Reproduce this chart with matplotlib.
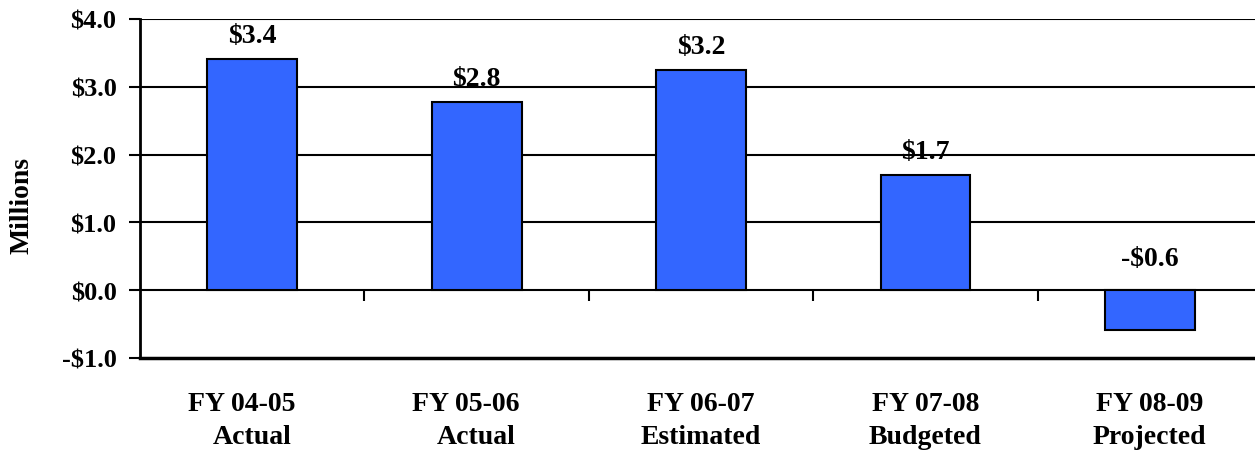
import matplotlib.pyplot as plt
import numpy as np

# Values (millions of dollars)
years = ['FY 04-05', 'FY 05-06', 'FY 06-07', 'FY 07-08', 'FY 08-09']
kinds = ['Actual', 'Actual', 'Estimated', 'Budgeted', 'Projected']
values = [3.41, 2.78, 3.25, 1.70, -0.59]
value_labels = ['$3.4', '$2.8', '$3.2', '$1.7', '-$0.6']
y_ticks = [-1, 0, 1, 2, 3, 4]
y_tick_labels = ['-$1.0', '$0.0', '$1.0', '$2.0', '$3.0', '$4.0']

plt.rcParams['font.family'] = ['Liberation Serif', 'DejaVu Serif']
plt.rcParams['font.weight'] = 'bold'

fig = plt.figure(figsize=(12.55, 4.52), dpi=100)
ax = fig.add_axes([0.1116, 0.2058, 0.894, 0.75])

x = np.arange(len(values))
ax.bar(x, values, width=0.40, color='#3366FF', edgecolor='black', linewidth=1.5, zorder=3)

# Value labels above each bar (above the zero line for the negative one)
for xi, v, lab in zip(x, values, value_labels):
    ax.annotate(lab, (xi, max(v, 0)), xytext=(0, 8 if v >= 0 else 14),
                textcoords='offset points', ha='center', va='bottom',
                fontsize=20, fontweight='bold')

ax.set_xlim(-0.5, len(values) - 0.5)
ax.set_ylim(-1, 4)

# Gridlines
for yv in y_ticks[1:]:
    ax.axhline(yv, color='black', linewidth=1.5, zorder=1)

ax.set_yticks(y_ticks)
ax.set_yticklabels(y_tick_labels, fontsize=19, fontweight='bold')
ax.tick_params(axis='y', direction='out', length=8, width=1.5, pad=9)

# Category labels below the plot, tick marks sit on the zero line
ax.set_xticks(x)
ax.set_xticklabels([f'{a}   \n{b}' if b == 'Actual' else f'{a}\n{b}' for a, b in zip(years, kinds)],
                   fontsize=20, fontweight='bold', linespacing=1.4)
ax.tick_params(axis='x', length=0, pad=24)

sec = ax.secondary_xaxis(0.2)
sec.set_xticks(x[:-1] + 0.5)
sec.set_xticklabels([''] * (len(x) - 1))
sec.tick_params(axis='x', direction='out', length=8, width=1.5)
sec.spines['bottom'].set_visible(False)

for s in ['top', 'right']:
    ax.spines[s].set_visible(False)
ax.spines['left'].set_linewidth(2)
ax.spines['bottom'].set_linewidth(2.5)

ax.set_ylabel('Millions', fontsize=20, fontweight='bold')
ax.yaxis.set_label_coords(-0.094, 0.454)

fig.savefig('out.png', dpi=100)
